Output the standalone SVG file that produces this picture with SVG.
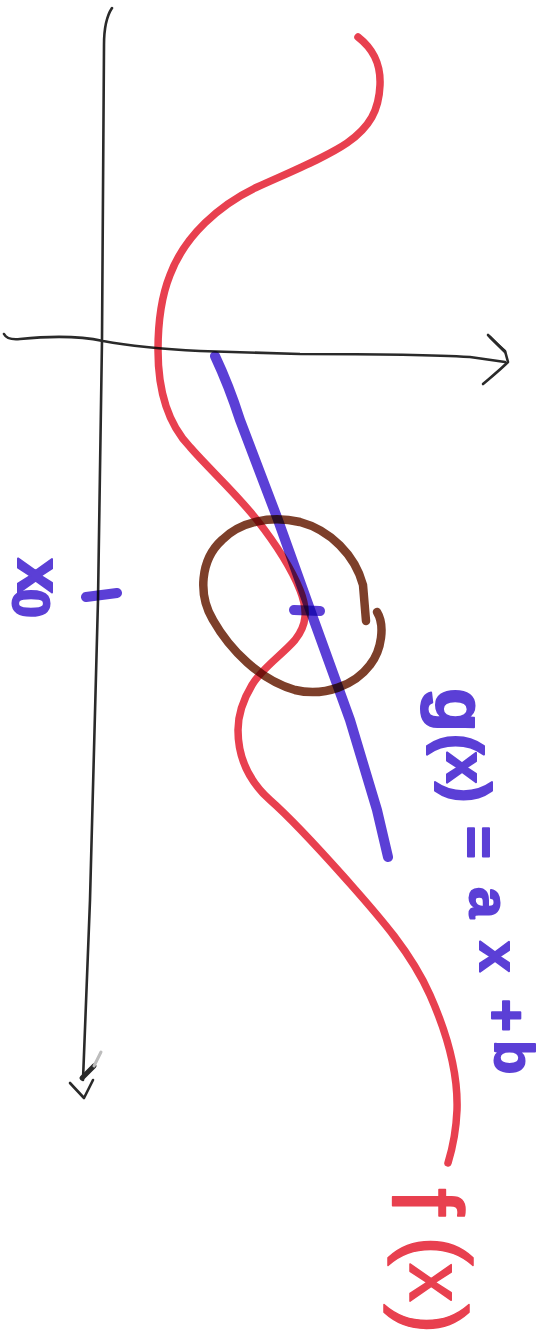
<svg xmlns="http://www.w3.org/2000/svg" width="557" height="1335" viewBox="0 0 557 1335">
  <style>
    .axis { fill: none; stroke: #2a2a2a; stroke-width: 2.6; stroke-linecap: round; stroke-linejoin: round; }
    .red { fill: none; stroke: #e8404f; stroke-width: 7.5; stroke-linecap: round; stroke-linejoin: round; mix-blend-mode: multiply; }
    .blue { fill: none; stroke: #5b3fd6; stroke-width: 10; stroke-linecap: round; stroke-linejoin: round; mix-blend-mode: multiply; }
    .brown { fill: none; stroke: #7d3f2a; stroke-width: 8.5; stroke-linecap: round; stroke-linejoin: round; mix-blend-mode: multiply; }
    .lblue { font-family: "Liberation Sans", Arial, sans-serif; font-weight: bold; fill: #5b3fd6; stroke: #5b3fd6; stroke-width: 2; stroke-linejoin: round; }
    .lred { font-family: "Liberation Sans", Arial, sans-serif; font-weight: normal; fill: #e8404f; stroke: #e8404f; stroke-width: 1.5; stroke-linejoin: round; }
  </style>
  <rect width="557" height="1335" fill="#ffffff"/>

  <g id="axes">
    <path class="axis" d="M112,8 C106,17 104,28 104,45 L102,340 L98,600 L90,900 L83,1080"/>
    <path class="axis" d="M70,1083 L84,1098 L93,1080"/>
    <path d="M82,1078 L94,1066" stroke="#2a2a2a" stroke-width="5" stroke-linecap="round"/>
    <path d="M94,1066 L101,1052" stroke="#bdbdbd" stroke-width="3" stroke-linecap="round"/>
    <path class="axis" d="M4,334 C6,338 10,340 20,339 C50,336 80,336 103,341 C130,346 160,349 200,351 L300,354 C360,354 420,354 470,357 L505,362"/>
    <path class="axis" d="M488,335 C495,342 500,347 505,351 L508,362 C500,370 490,378 483,384"/>
    <path class="axis" d="M490,337 L505,352"/>
  </g>

  <g id="curve-f">
    <path class="red" d="M358,37 C372,48 381,62 380,85 C379,110 370,127 347,143 C325,158 290,172 255,188 C220,205 185,235 170,275 C160,300 158,330 158,350 C158,388 166,422 190,447 C210,470 235,492 257,520 C275,543 292,570 300,590 C308,610 307,625 295,640 C282,655 262,668 252,685 C243,700 238,715 238,730 C238,760 250,782 270,800 C295,822 320,850 345,878 C375,912 410,950 430,995 C450,1040 458,1080 457,1110 C456,1135 452,1150 448,1163"/>
  </g>

  <g id="line-g">
    <path class="blue" d="M215,356 C223,373 232,395 240,420 L278,520 L312,615 L350,720 L377,810 L388,857"/>
    <path class="blue" d="M294,610 L320,611" stroke-width="11"/>
    <path class="blue" d="M86,597 L117,593" stroke-width="10"/>
  </g>

  <g id="circle">
    <path class="brown" d="M377,612 C385,625 382,650 370,665 C355,685 325,697 295,690 C260,680 230,650 213,620 C198,595 200,560 222,540 C240,522 270,515 300,522 C330,530 355,555 363,585 L366,621"/>
  </g>

  <g id="label-g">
    <text class="lblue" transform="translate(440,688) rotate(90)" font-size="56">
      <tspan x="0" y="4" font-size="72">g</tspan>
      <tspan x="46" y="0" font-size="62">(</tspan>
      <tspan x="64" y="-7">x</tspan>
      <tspan x="94" y="-8" font-size="62">)</tspan>
      <tspan x="138" y="-20">=</tspan>
      <tspan x="199" y="-30">a</tspan>
      <tspan x="253" y="-40">x</tspan>
      <tspan x="311" y="-48">+</tspan>
      <tspan x="352" y="-55">b</tspan>
    </text>
  </g>

  <g id="label-f">
    <text class="lred" transform="rotate(90)">
      <tspan x="1188" y="-392" font-size="100">f</tspan>
      <tspan x="1236" y="-407" font-size="90">(</tspan>
      <tspan x="1263" y="-410" font-size="78">x</tspan>
      <tspan x="1304" y="-403" font-size="90">)</tspan>
    </text>
  </g>

  <g id="label-x0">
    <text class="lblue" transform="rotate(90)" stroke-width="3">
      <tspan x="558" y="-18" font-size="64">x</tspan>
      <tspan x="589" y="-13" font-size="52">0</tspan>
    </text>
  </g>
</svg>
